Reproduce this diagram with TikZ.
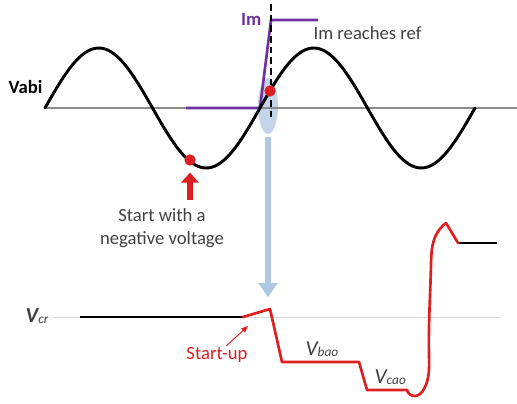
\documentclass[tikz,border=0pt]{standalone}
\usepackage{fontspec}
\setmainfont{Carlito}
\usetikzlibrary{arrows.meta,shapes.geometric,hobby,calc}
\definecolor{vred}{RGB}{222,30,32}
\definecolor{impurple}{RGB}{112,48,160}
\definecolor{hintblue}{RGB}{176,199,228}
\definecolor{txtgray}{RGB}{64,64,64}
\newcommand{\subV}[2]{{\fontsize{16}{16}\selectfont#1V}\raisebox{-1pt}{\fontsize{10}{10}\selectfont\itshape #2}}
\tikzset{
    wave/.style={
        line width=2.2pt,
        black,
        line cap=round
    },
    axis line/.style={line width=0.8pt, black!45},
    ref line/.style={line width=0.6pt, black!15},
    seq line/.style={
        line width=2pt,
        vred,
        line join=round,
        line cap=round
    },
    im line/.style={line width=2pt, impurple, line join=miter},
    red dot/.style={circle, fill=vred, inner sep=0pt, minimum size=8.5pt},
    label text/.style={font=\fontsize{14}{17}\selectfont, text=txtgray, inner sep=1pt}
}
\begin{document}
\begin{tikzpicture}[x={(0.75pt,0)}, y={(0,-0.75pt)}]
                \useasboundingbox (0,0) rectangle (517,403);
                % upper part: voltage Vabi and current Im
                \coordinate (axisL) at (45,108);
                \coordinate (axisR) at (517,108);
                \coordinate (imL) at (186,108);
                \coordinate (imK) at (260,108);
                \coordinate (imT) at (271,20);
                \coordinate (imR) at (318,20);
                \coordinate (dashT) at (271,4);
                \coordinate (dashB) at (271,118);
                \node[ellipse, fill=hintblue, opacity=0.75, minimum width=20pt*0.75, minimum height=56pt*0.75, inner sep=0pt] (zone) at (268,106) {};
                \draw[axis line] (axisL) -- (axisR);
                \draw[im line] (imL) -- (imK) -- (imT) -- (imR);
                \draw[wave] plot[domain=45:475, samples=150, smooth] (\x, {108-60*sin(((\x-45)/215)*360)});
                \draw[black, line width=1.1pt, dash pattern=on 5pt off 3pt] (dashT) -- (dashB);
                \node[red dot] (dotA) at (190,160) {};
                \node[red dot] (dotB) at (270,91) {};
                \node[label text, font=\fontsize{14}{17}\selectfont\bfseries, text=black, anchor=east] (vabi) at (44,87) {Vabi};
                \node[label text, font=\fontsize{14}{17}\selectfont\bfseries, text=impurple, anchor=east] (imlabel) at (263,19) {Im};
                \node[label text, anchor=west] (imref) at (312,33) {Im reaches ref};
                \node[label text, align=center] (startneg) at (162,228) {Start with a\\negative voltage};
                \coordinate (redTail) at (190,200);
                \draw[vred, line width=4.5pt, -{Triangle[width=13pt, length=7.5pt]}, shorten >=5pt] (redTail) -- (dotA);
                % lower part: start-up sequence
                \coordinate (pickup) at (268,297);
                \draw[hintblue, line width=4.5pt, -{Triangle[width=14pt, length=10.5pt]}, shorten <=2pt] (zone.south) -- (pickup);
                \coordinate (refL) at (53,317);
                \coordinate (refR) at (500,317);
                \coordinate (vcrL) at (80,317);
                \coordinate (rampS) at (243,317);
                \coordinate (rampT) at (270,309);
                \coordinate (baoL) at (282,362);
                \coordinate (baoR) at (359,362);
                \coordinate (caoL) at (367,390);
                \coordinate (caoR) at (407,390);
                \coordinate (peak) at (446,223);
                \coordinate (finL) at (458,243);
                \coordinate (finR) at (497,243);
                \draw[ref line] (refL) -- (refR);
                \draw[black, line width=2pt] (vcrL) -- (rampS);
                \draw[black, line width=2pt] (finL) -- (finR);
                \draw[seq line] (rampS) -- (rampT) -- (baoL) -- (baoR) -- (caoL) -- (caoR);
                \draw[seq line, use Hobby shortcut] (caoR) .. (415,396) .. (424,389) .. (429,355) .. (431,265) .. (436,235) .. (peak);
                \draw[seq line] (peak) -- (finL);
                \node[label text, anchor=east] (vcr) at (50,316) {\subV{\bfseries\itshape}{cr}};
                \node[label text, anchor=west] (vbao) at (304,349) {\subV{\itshape}{bao}};
                \node[label text, anchor=west] (vcao) at (373,377) {\subV{\itshape}{cao}};
                \node[label text, text=vred] (startup) at (217,355) {Start-up};
                \coordinate (upTip) at (248,326);
                \draw[vred, line width=0.7pt, -{Triangle[width=4pt, length=5pt]}] ([xshift=7pt]startup.north) -- (upTip);
            \end{tikzpicture}
\end{document}
